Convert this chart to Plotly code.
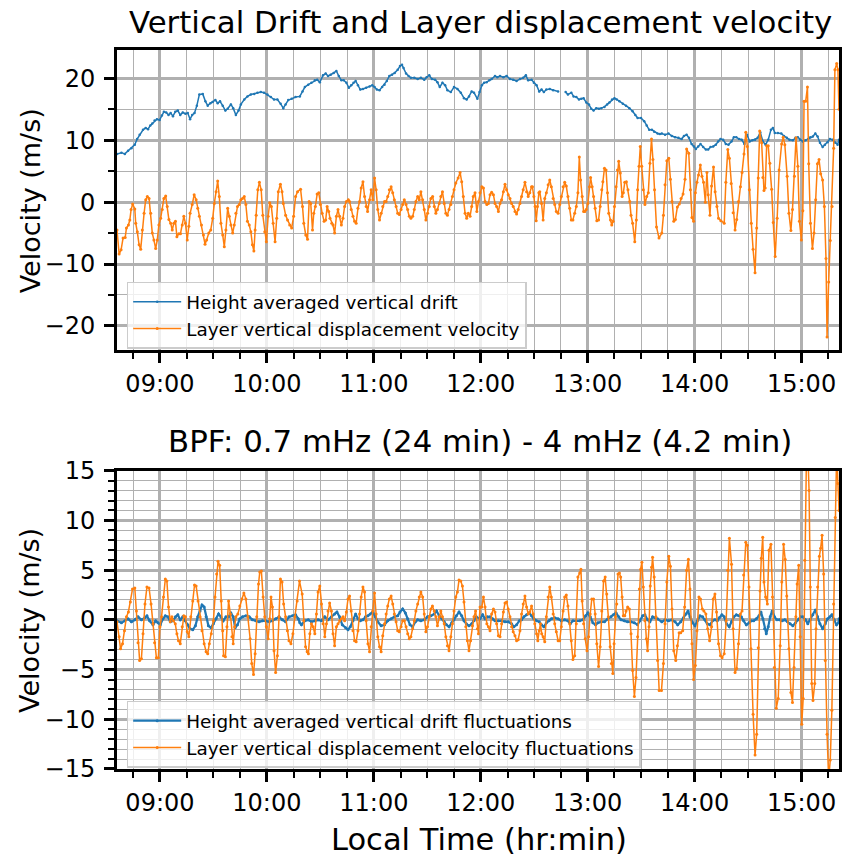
import plotly.graph_objects as go
import pandas as pd

# ---------------- data (times in minutes after midnight, local time) ----------------
drift_t = [515.9, 518.4, 520.3, 522.1, 524.0, 525.9, 527.2, 528.6, 530.5, 532.0, 533.3, 534.6, 535.7, 537.0, 538.3,
           539.8, 541.1, 542.2, 543.5, 544.8, 546.0, 547.3, 548.6, 550.0, 551.4, 552.8, 554.3, 555.6, 556.9, 558.1,
           559.4, 560.7, 562.1, 564.0, 565.5, 566.8, 568.3, 569.6, 571.1, 572.4, 573.7, 575.2, 576.7, 578.0, 579.8,
           581.1, 582.6, 584.1, 585.4, 587.3, 589.1, 591.0, 592.9, 594.7, 596.6, 598.4, 600.3, 602.2, 604.0, 605.9,
           607.7, 609.2, 610.5, 612.0, 613.9, 616.1,
           618.5, 620.0, 621.3, 623.2, 625.0, 626.9, 628.2, 629.7, 631.5, 633.0, 634.3, 635.8, 637.5, 639.0, 640.3,
           641.8, 643.1, 644.6, 646.0, 647.3, 648.6, 649.8, 651.1, 652.4, 653.9, 655.7, 657.6, 659.1, 660.4, 661.7,
           663.2, 664.7, 666.0, 667.3, 668.7, 670.2, 671.7, 673.4, 674.7, 675.8, 676.7, 678.1, 679.5, 680.8, 682.7,
           684.6, 686.4, 688.3, 689.6, 691.1, 692.6, 694.4, 695.7, 697.0, 698.5, 700.0, 701.3, 703.2, 705.0, 706.9,
           708.8, 710.6, 712.1, 713.4, 714.9, 716.2, 718.1,
           719.3, 720.6, 721.9, 723.3, 724.8, 726.1, 728.0, 729.3, 730.8, 732.7, 734.5, 736.4, 738.2, 740.1, 742.0,
           743.8, 745.3, 746.6, 748.5, 749.8, 751.3, 752.8, 754.1, 755.4, 756.8, 758.7, 760.6, 763.4, 765.5, 767.6,
           768.9, 770.8, 772.1, 773.6, 775.1, 776.4, 777.7, 779.2, 780.7, 782.0, 783.3, 784.8, 786.3, 787.6, 789.4,
           790.9, 792.2, 793.7, 795.0, 796.3, 797.8, 799.7, 801.5, 803.4, 805.2, 806.7, 808.0, 809.9, 811.7, 813.1,
           814.5, 816.0, 817.3, 819.2, 820.5,
           821.6, 823.4, 825.3, 827.2, 829.0, 830.9, 832.7, 834.0, 835.5, 836.8, 838.3, 839.6, 840.7, 842.0, 843.3,
           844.8, 846.3, 847.6, 848.9, 850.4, 851.9, 853.2, 854.5, 856.0, 857.5, 859.0, 860.7, 862.0, 863.4, 864.9,
           866.4, 867.9, 869.4, 870.9, 872.4, 873.9, 875.4, 876.8, 878.3, 879.8, 881.3, 882.8, 883.9, 885.0, 886.7,
           888.6, 890.1, 891.7, 893.2, 895.1, 896.6, 897.9, 899.2, 900.7, 902.2, 903.6, 904.9, 906.3, 907.7, 909.0,
           910.3, 911.8, 913.1, 914.6, 915.9, 917.4, 918.9, 920.2, 921.0]
drift_v = [7.8, 8.0, 7.8, 8.3, 8.7, 9.3, 10.2, 10.9, 11.7, 12.0, 11.8, 12.4, 12.7, 13.2, 13.4,
           13.3, 14.0, 14.6, 14.5, 14.1, 14.4, 13.9, 14.6, 14.8, 14.1, 14.5, 14.3, 14.4, 13.4, 14.1,
           14.4, 15.6, 17.4, 17.5, 16.3, 15.6, 16.0, 16.2, 16.5, 16.0, 16.3, 15.6, 14.8, 15.1, 15.8,
           15.2, 14.1, 14.8, 15.8, 16.6, 17.1, 17.4, 17.5, 17.7, 17.8, 17.7, 17.4, 17.0, 16.6, 16.6,
           15.9, 15.2, 15.8, 16.5, 16.7, 17.0,
           17.1, 17.9, 18.6, 19.0, 19.3, 19.7, 19.8, 19.4, 20.5, 20.8, 20.4, 20.6, 20.9, 21.2, 20.4,
           19.7, 19.7, 19.3, 18.5, 18.9, 19.3, 19.6, 18.9, 18.2, 18.3, 18.5, 18.7, 18.9, 18.6, 18.2,
           18.1, 18.6, 19.0, 19.6, 20.4, 20.6, 20.9, 21.4, 22.0, 22.2, 21.7, 20.8, 20.4, 20.1, 20.1,
           19.9, 20.1, 19.8, 20.2, 20.5, 19.9, 19.8, 19.4, 18.6, 19.3, 18.9, 18.1, 17.8, 18.6, 18.3,
           17.7, 16.8, 16.6, 17.1, 17.9, 17.7, 16.7,
           17.8, 18.9, 19.3, 19.4, 19.7, 19.9, 20.4, 20.2, 20.4, 20.2, 20.4, 19.9, 19.8, 19.6, 19.9,
           20.1, 20.5, 19.7, 19.8, 19.3, 18.9, 17.9, 18.2, 17.8, 18.2, 18.3, 18.1, 17.9, None, 17.8,
           17.4, 17.7, 17.1, 17.0, 16.6, 16.7, 16.8, 16.1, 15.8, 15.1, 14.8, 15.2, 15.1, 15.2, 15.4,
           15.8, 16.1, 16.6, 16.8, 16.6, 16.3, 15.9, 15.6, 15.2, 14.7, 14.1, 13.6, 13.6, 13.1, 12.4,
           11.7, 11.7, 11.4, 11.1, 11.0,
           11.1, 10.9, 11.1, 10.7, 10.5, 10.4, 10.2, 10.7, 10.9, 10.4, 9.4, 9.0, 8.6, 9.0, 9.4,
           8.9, 8.5, 8.5, 8.9, 9.0, 9.3, 9.8, 10.2, 10.1, 9.4, 9.3, 9.8, 10.5, 10.5, 10.2,
           10.1, 9.4, 10.9, 9.8, 10.0, 10.1, 10.4, 11.3, 9.8, 9.3, 10.1, 11.7, 12.0, 11.2, 11.2,
           11.1, 10.7, 10.4, 10.1, 10.0, 10.4, 10.5, 10.1, 9.8, 10.0, 10.2, 10.5, 10.6, 11.1, 10.6,
           9.6, 8.9, 9.3, 9.7, 10.2, 10.1, 9.6, 9.3, 10.1]

layer_t = [515.9, 517.1, 518.2, 519.3, 520.5, 521.2, 522.3, 523.1, 523.8, 524.7, 525.9, 526.4, 527.3, 528.3, 529.2,
           530.1, 531.1, 532.0, 532.9, 533.9, 534.8, 535.7, 536.6, 537.6, 538.5, 539.4, 540.4, 541.3, 542.2, 543.2,
           544.1, 545.0, 546.0, 546.9, 547.8, 548.7, 549.5, 550.6, 551.5, 552.5, 553.4, 554.3, 555.3, 556.2, 556.9,
           558.1, 559.2, 560.3, 561.2, 562.1, 563.3, 564.4, 565.3, 566.2, 567.4, 568.5, 569.6, 570.5, 571.5, 572.4,
           573.3, 574.2, 575.2, 576.1, 577.0, 578.0, 578.9, 579.8, 580.8, 581.7, 582.6, 583.5, 584.5, 585.4, 586.3,
           587.3, 588.2, 589.1, 590.1, 591.0, 591.9, 592.7, 593.4, 594.0, 594.9, 595.8, 596.8, 597.7, 598.8, 599.7,
           600.7, 601.6, 602.5, 603.5, 604.6, 605.5, 606.4, 607.6, 608.5, 609.2, 610.5, 611.6, 612.8, 613.9, 615.0,
           616.1, 617.2,
           618.9, 620.0, 620.7, 621.8, 622.8, 623.7, 624.6, 625.6, 626.3, 627.2, 628.2, 629.1, 630.0, 631.0, 632.1,
           633.0, 633.8, 634.7, 635.4, 636.4, 637.1, 638.0, 639.0, 639.9, 640.8, 641.8, 642.7, 643.6, 644.6, 645.7,
           646.4, 647.3, 648.3, 649.2, 650.1, 651.1, 652.0, 652.9, 653.9, 654.8, 655.7, 656.5, 657.6, 658.5, 659.4,
           660.4, 661.3, 662.2, 663.2, 664.1, 665.0, 666.0, 666.9, 667.8, 668.7, 669.7, 670.6, 671.5, 672.5, 673.4,
           674.3, 675.3, 676.2, 677.1, 678.1, 679.0, 679.9, 680.8, 681.8, 682.7, 683.6, 684.6, 685.5, 686.4, 687.4,
           688.3, 689.2, 690.2, 691.1, 692.0, 693.0, 693.9, 694.8, 695.7, 696.7, 697.6, 698.5, 699.5, 700.4, 701.3,
           702.2, 703.2, 704.1, 705.0, 706.0, 707.3, 708.4, 709.3, 710.2, 711.2, 712.1, 713.0, 714.0, 714.9, 715.8,
           716.8, 717.8,
           718.7, 719.6, 720.6, 721.5, 722.4, 723.4, 724.3, 725.2, 726.1, 727.1, 728.0, 728.9, 729.9, 730.8, 731.7,
           732.7, 733.6, 734.5, 735.4, 736.4, 737.3, 738.2, 739.2, 740.1, 741.0, 742.0, 742.9, 743.8, 744.8, 745.7,
           746.6, 747.5, 748.5, 749.0, 749.8, 750.5, 751.1, 751.8, 752.6, 753.1, 754.1, 755.0, 755.9, 756.8, 757.8,
           758.7, 759.6, 760.6, 761.5, 762.4, 763.4, 764.3, 765.2, 766.2, 767.1, 768.0, 768.9, 769.9, 770.8, 771.7,
           772.7, 773.6, 774.5, 775.3, 776.0, 776.9, 777.7, 778.4, 779.2, 780.1, 781.0, 781.6, 782.5, 783.3, 784.2,
           785.1, 786.1, 787.0, 787.9, 788.5, 789.4, 790.3, 791.1, 791.8, 792.8, 793.5, 794.3, 795.0, 795.9, 796.7,
           797.4, 798.3, 799.3, 800.0, 800.8, 801.7, 802.6, 803.6, 804.3, 805.2, 806.4, 807.3, 808.0, 808.8, 809.5,
           810.3, 811.2, 812.1, 813.1, 814.0, 814.9, 815.8, 816.6, 817.5, 818.6,
           820.0, 821.6, 822.5, 823.4, 824.4, 825.5, 826.4, 827.3, 828.3, 829.2, 830.3, 831.4, 832.4, 833.5, 834.6,
           835.5, 836.7, 837.6, 838.5, 839.4, 840.4, 841.3, 842.2, 843.2, 844.1, 845.0, 846.0, 846.9, 847.6, 848.6,
           849.5, 850.6, 851.5, 852.5, 853.4, 854.7, 856.6, 857.5, 858.6, 859.5, 860.5, 861.6, 862.7, 863.6, 864.6,
           865.7, 866.6, 867.7, 868.7, 869.6, 870.7, 871.8, 872.8, 873.9, 874.8, 875.7, 876.5, 877.6, 878.3, 878.9,
           879.6, 880.4, 881.3, 882.2, 883.2, 884.1, 885.2, 886.3, 887.4, 888.8, 889.7, 890.6, 891.9, 892.9, 894.0,
           894.9, 896.0, 896.9, 897.9, 898.8, 899.9, 900.7, 901.4, 902.3, 903.3, 904.0, 905.0, 906.1, 907.0, 907.9,
           908.9, 909.8, 910.7, 911.8, 912.8, 913.7, 914.3, 915.2, 916.1, 917.1, 918.0, 918.7, 919.7, 920.4, 921.0]
layer_v = [-4.5, -8.4, -7.7, -5.8, -5.7, -4.2, -3.7, -2.9, -1.2, -0.3, -1.1, -3.4, -4.8, -6.9, -7.6,
           -4.5, -1.8, 0.4, 0.9, 0.6, -1.8, -5.0, -6.1, -7.5, -6.1, -3.7, -2.6, -1.2, 0.6, 1.0,
           -0.7, -2.8, -3.4, -4.5, -3.4, -3.1, -5.6, -5.1, -5.1, -3.7, -2.3, -3.4, -6.1, -3.9, -1.8,
           -0.4, 1.2, 0.4, -1.0, -2.3, -3.7, -5.3, -6.8, -6.1, -5.0, -4.5, -2.6, -0.2, 1.7, 3.4,
           0.9, -3.4, -5.3, -7.2, -4.5, -1.0, -2.3, -3.7, -5.0, -3.7, -1.8, -0.7, -0.4, 0.4, 0.6,
           0.9, -0.4, -3.1, -3.7, -4.8, -6.9, -7.9, -4.5, -2.1, 2.0, 3.2, 2.0, -2.1, -4.8, -6.4,
           -2.3, -0.1, -0.7, -3.4, -6.4, -2.6, 1.7, 2.9, 1.7, -0.2, -2.1, -2.9, -3.7, -4.2, -2.3,
           0.9, 1.7,
           2.1, -0.7, -3.4, -5.3, -6.0, 0.1, -0.2, -4.5, -1.8, -0.7, 1.3, 1.5, -0.4, -1.8, -3.1,
           -2.9, -0.7, -1.5, -2.6, -3.4, -3.7, -5.0, -2.3, -1.2, -2.3, -3.7, -2.6, -0.7, 0.1, 0.4,
           0.1, -1.2, -2.3, -3.1, -3.4, -1.0, 0.1, 2.3, 3.3, 0.9, -0.7, -1.5, 0.4, 2.0, 0.4,
           3.9, 2.0, -1.2, -2.9, -1.8, -0.7, 0.1, 0.1, 0.9, 2.0, 2.5, 1.5, 0.4, -0.7, -1.8,
           -2.0, -1.2, -0.4, 0.4, -0.4, -1.2, -2.3, -2.6, -2.3, -1.2, 0.1, 0.9, 0.4, 1.7, 0.4,
           -1.2, -2.9, -1.8, -0.7, 0.6, 0.9, -0.7, -1.8, -1.2, -0.2, 0.9, 1.7, -0.2, -1.8, -2.1,
           -1.2, -0.4, 0.9, 2.0, 3.1, 3.9, 4.8, 3.3, 0.9, -1.8, -2.6, -1.8, -2.3, -0.7, 0.9,
           1.5, -1.5,
           0.1, 1.5, 2.5, 2.3, 0.1, -0.4, -0.2, 1.2, 1.6, 1.2, -0.2, -0.7, -1.5, -0.2, 0.4,
           1.7, 2.9, 2.0, 1.2, 0.6, -0.2, -0.7, -1.5, -1.9, -1.2, -0.2, 0.9, 2.0, 3.2, 1.7,
           0.9, 1.5, 2.5, 2.5, 0.9, -0.7, -3.0, -0.7, 1.5, 1.7, -0.2, -2.9, 0.6, 1.5, 2.8,
           3.6, 2.5, 0.6, -0.4, -1.5, -1.8, -0.4, 0.9, 2.5, 3.2, 2.6, 0.9, -1.0, -2.9, -2.9,
           -1.8, -0.7, 1.5, 7.3, 3.6, 0.9, -1.5, -1.5, -1.2, -0.2, 2.5, 4.0, 2.5, 0.9, -1.0,
           -3.0, -2.9, -0.7, 2.0, 3.3, 5.5, 5.2, 1.5, -1.8, -2.9, -3.7, -3.1, -0.7, 2.5, 5.2,
           6.6, 4.7, 0.9, 1.5, 3.2, 3.3, 2.0, 0.1, -2.1, -3.4, -6.4, -2.9, 2.0, 5.8, 9.0,
           5.8, 2.0, -0.4, 0.9, 1.5, 6.3, 10.2, 6.9, 2.0, -4.0,
           -5.8, -5.0, -2.1, 2.8, 6.7, 7.1, 3.7, 0.1, -3.1, -2.8, -0.8, -0.3, 0.6, 1.3, 3.7,
           8.6, 7.9, 2.0, -2.5, -3.1, 1.5, 3.2, 4.4, 6.0, 4.2, 3.2, 0.0, 4.8, 1.2, -2.1,
           2.6, 5.7, 1.7, -0.7, -2.6, -3.0, -3.4, 3.2, 8.5, 7.1, 3.0, -1.7, -4.5, -2.8, 0.1,
           2.5, 4.8, 7.8, 11.3, 9.0, 2.0, -3.4, -7.6, -11.4, -4.2, 3.9, 11.5, 9.6, 4.0, 1.9,
           2.3, 9.1, 9.1, 6.3, 2.1, -3.3, -8.8, -2.6, 5.2, 9.4, 10.5, 9.3, 4.2, -1.8, -4.6,
           -1.2, 4.2, 10.4, 5.8, -3.1, -6.1, -1.4, 16.3, 16.3, 18.6, 6.2, -3.4, -7.5, -5.0, 0.4,
           6.2, 6.9, 4.6, 3.6, -0.7, -9.1, -21.8, -12.9, -6.2, -0.7, 8.7, 21.4, 22.4, 21.4, 15.0]

bpf_drift_t = [515.9, 518.4, 520.3, 522.1, 524.0, 525.9, 527.7, 529.6, 531.4, 532.7, 534.2, 536.1, 537.6, 538.9, 540.2,
               541.7, 543.0, 544.5, 545.8, 547.3, 548.7, 550.0, 551.4, 552.8, 554.3, 555.6, 556.9, 558.4, 559.9, 561.2,
               562.5, 563.6, 564.8, 565.9, 567.2, 568.7, 570.0, 571.5, 572.9, 574.2, 575.5, 577.0, 578.5, 579.8, 581.1,
               582.2, 583.5, 584.8, 586.3, 588.2, 590.1, 591.9, 593.8, 595.6, 597.5, 599.4, 601.2, 603.1, 604.9, 606.8,
               608.7, 610.5, 612.4, 614.3, 616.1, 617.6, 618.5,
               619.4, 621.3, 623.2, 625.0, 626.9, 628.7, 630.6, 632.5, 634.3, 636.2, 638.0, 639.3, 640.8, 642.3, 644.2,
               645.5, 646.8, 648.3, 649.8, 651.1, 652.4, 653.9, 655.3, 656.7, 658.0, 659.4, 660.9, 662.2, 664.1, 666.0,
               667.8, 669.7, 671.5, 673.4, 674.7, 676.2, 677.7, 679.0, 680.3, 681.8, 683.3, 684.6, 686.4, 688.3, 690.1,
               692.0, 693.9, 695.2, 696.7, 698.2, 699.5, 700.8, 702.2, 703.7, 705.0, 706.3, 707.8, 709.3, 710.6, 711.9,
               713.4, 714.9, 716.2, 717.5,
               719.6, 721.1, 722.4, 723.7, 725.2, 726.7, 728.0, 729.9, 731.7, 733.6, 735.4, 737.3, 738.6, 740.1, 741.6,
               742.9, 744.2, 745.7, 747.2, 748.5, 749.8, 751.3, 752.8, 754.1, 755.4, 756.8, 758.3, 759.6, 761.5, 763.4,
               765.2, 767.1, 768.9, 770.2, 771.7, 773.6, 775.5, 777.3, 778.8, 780.1, 781.4, 782.9, 784.4, 785.7, 787.6,
               789.4, 791.3, 793.1, 794.4, 795.9, 797.4, 798.7, 800.6, 802.4, 804.3, 806.2, 808.0, 809.3, 810.8, 812.1,
               813.6, 814.9, 816.4, 817.9, 819.2,
               821.6, 823.4, 825.3, 827.2, 829.0, 830.5, 832.2, 833.7, 835.2, 836.3, 837.4, 838.9, 840.2, 841.5, 843.0,
               844.5, 845.8, 847.1, 848.6, 850.0, 851.4, 852.7, 853.8, 855.3, 856.6, 857.9, 859.4, 860.7, 862.0, 863.4,
               864.9, 866.2, 867.5, 869.0, 870.5, 871.8, 873.1, 874.6, 876.1, 877.2, 878.3, 879.3, 880.2, 881.3, 882.4,
               883.5, 884.8, 886.2, 887.6, 889.1, 890.6, 892.1, 893.6, 895.1, 896.6, 898.1, 899.4, 900.7, 902.2, 903.5,
               904.8, 906.3, 907.7, 909.0, 910.3, 911.8, 913.3, 914.6, 915.9, 917.0, 918.3, 919.6, 920.7, 921.0]
bpf_drift_v = [-0.1, -0.3, -0.1, 0.1, -0.2, 0.0, 0.3, 0.0, 0.2, 0.4, -0.1, -0.5, -0.1, -0.3, -0.5,
               0.1, 0.4, 0.3, -0.2, -0.1, 0.3, 0.5, 0.0, 0.3, -0.1, -0.5, -0.9, -1.0, -0.6, 0.3,
               0.9, 1.5, 1.3, 0.3, -0.6, -0.8, -0.4, 0.1, 0.6, 0.3, -0.1, 0.3, 0.3, 0.7, 0.3,
               -0.8, -0.5, 0.1, 0.3, 0.4, 0.3, 0.0, -0.1, -0.2, -0.1, -0.1, -0.2, -0.1, 0.1, 0.3,
               0.0, -0.2, 0.3, 0.4, 0.5, 0.1, -0.3,
               -0.5, -0.1, 0.0, -0.2, -0.1, 0.0, -0.1, 0.3, 0.0, 0.3, 0.6, 0.8, 0.3, -0.5, -0.8,
               -1.0, -0.7, -0.1, 0.6, 0.1, -0.1, 0.0, 0.3, 0.4, 0.6, 0.8, 0.3, -0.2, -0.6, -0.5,
               -0.1, 0.1, 0.3, 0.4, 0.8, 1.1, 0.7, 0.1, -0.5, -0.7, -0.2, 0.0, -0.1, 0.0, 0.3,
               0.4, 0.6, 0.9, 0.4, 0.1, -0.2, -0.5, -0.7, -0.3, 0.0, 0.4, 0.8, 0.4, -0.1, -0.4,
               -0.6, -0.4, -0.1, 0.3,
               0.1, 0.5, 0.1, 0.3, 0.3, 0.1, -0.1, -0.1, -0.1, -0.2, -0.2, -0.4, -0.7, -0.5, -0.1,
               0.0, 0.3, 0.5, 0.7, 0.4, 0.1, -0.1, -0.2, -0.5, -0.7, -0.3, -0.1, 0.1, 0.2, 0.1,
               -0.1, 0.0, -0.1, -0.4, -0.1, -0.1, -0.1, 0.0, 0.4, 0.7, 0.3, -0.3, -0.5, -0.3, -0.2,
               -0.2, 0.1, 0.3, 0.5, 0.7, 0.3, 0.0, -0.1, -0.2, -0.2, -0.3, -0.5, -0.1, 0.4, 0.5,
               0.0, -0.2, 0.3, 0.2, 0.1,
               -0.2, 0.0, -0.1, 0.0, -0.2, -0.5, -0.2, 0.2, 0.6, 0.9, 0.3, -0.3, -0.6, -0.1, 0.4,
               0.3, 0.0, -0.4, -0.5, -0.1, 0.0, -0.1, 0.2, 0.5, 0.3, -0.4, -0.7, -0.2, 0.3, 0.5,
               0.4, 0.3, -0.1, -0.5, -0.3, -0.1, -0.1, 0.1, 0.4, 0.8, 0.1, -0.9, -1.4, -0.7, 0.3,
               0.9, 0.3, 0.0, 0.0, -0.1, 0.0, -0.2, -0.4, -0.6, -0.3, 0.0, 0.3, 0.3, 0.0, -0.4,
               0.0, 0.5, 1.0, 0.3, -0.4, -0.9, -0.4, 0.1, 0.3, 0.5, 0.0, -0.5, -0.3, 0.1]

bpf_layer_t = [515.9, 517.1, 517.9, 519.0, 520.1, 521.2, 522.3, 523.4, 524.6, 525.9, 526.8, 527.7, 528.6, 529.6, 530.5,
               531.6, 532.7, 533.9, 535.0, 536.1, 537.0, 538.0, 539.1, 540.0, 540.9, 542.0, 543.0, 543.9, 544.8, 545.8,
               546.7, 547.6, 548.6, 549.5, 550.4, 551.4, 552.5, 553.4, 554.3, 555.3, 556.2, 557.3, 558.4, 559.4, 560.3,
               561.4, 562.5, 563.6, 564.8, 565.9, 566.8, 567.7, 568.8, 570.0, 570.9, 571.8, 572.6, 573.5, 574.4, 575.2,
               575.7, 576.7, 577.6, 578.5, 579.5, 580.4, 581.1, 581.9, 582.6, 583.7, 584.8, 586.0, 587.1, 588.2, 589.3,
               590.6, 591.5, 592.5, 593.4, 594.3, 595.3, 596.0, 596.9, 597.9, 598.8, 599.7, 600.7, 601.6, 602.3, 603.1,
               604.0, 604.9, 605.9, 606.8, 607.6, 608.5, 609.4, 610.5, 611.5, 612.4, 613.5, 614.6, 615.7, 617.0, 618.3,
               619.8, 620.7, 621.7, 622.6, 623.3, 624.1, 625.0, 625.9, 626.9, 627.8, 628.7, 629.7, 630.6, 631.5, 632.5,
               633.4, 634.3, 635.2, 636.2, 637.1, 638.0, 639.0, 639.9, 640.8, 641.8, 642.7, 643.6, 644.6, 645.5, 646.4,
               647.3, 648.3, 649.2, 650.1, 651.1, 652.0, 652.9, 653.9, 654.8, 655.7, 656.7, 657.6, 658.5, 659.4, 660.4,
               661.3, 662.2, 663.2, 664.1, 665.0, 666.0, 666.9, 667.8, 668.7, 669.7, 670.6, 671.5, 672.5, 673.4, 674.3,
               675.3, 676.2, 677.1, 678.1, 679.0, 679.9, 680.8, 681.8, 682.7, 683.6, 684.6, 685.5, 686.4, 687.4, 688.3,
               689.2, 690.1, 691.1, 692.0, 692.9, 693.9, 694.8, 695.7, 696.7, 697.6, 698.5, 699.5, 700.4, 701.3, 702.2,
               703.2, 704.1, 705.0, 706.0, 706.9, 707.8, 708.8, 709.7, 710.6, 711.6, 712.5, 713.4, 714.3, 715.3, 716.2,
               717.1, 718.1,
               718.7, 719.6, 720.6, 721.5, 722.4, 723.4, 724.3, 725.2, 726.1, 727.1, 728.0, 728.9, 729.9, 730.8, 731.7,
               732.7, 733.6, 734.5, 735.4, 736.4, 737.3, 738.2, 739.2, 740.1, 741.0, 742.0, 742.9, 743.8, 744.8, 745.7,
               746.6, 747.5, 748.5, 749.4, 750.3, 751.3, 752.0, 752.8, 753.5, 754.2, 755.0, 755.9, 756.8, 757.8, 758.7,
               759.6, 760.6, 761.5, 762.4, 763.4, 764.3, 765.2, 766.2, 767.1, 768.0, 768.9, 769.9, 770.8, 771.7, 772.7,
               773.6, 774.5, 775.5, 776.2, 776.9, 777.7, 778.6, 779.6, 780.5, 781.4, 782.3, 783.3, 784.2, 785.1, 786.1,
               787.0, 787.9, 788.9, 789.8, 790.7, 791.6, 792.6, 793.3, 794.1, 794.8, 795.6, 796.3, 797.0, 797.8, 798.5,
               799.3, 800.0, 800.8, 801.5, 802.4, 803.4, 804.3, 805.2, 806.2, 807.1, 808.0, 809.0, 809.7, 810.4, 811.2,
               812.1, 812.9, 813.6, 814.4, 815.1, 815.8, 816.4, 817.3, 818.3, 819.2, 820.1,
               821.4, 822.5, 823.4, 824.4, 825.5, 826.4, 827.3, 828.3, 829.4, 830.3, 831.3, 832.2, 833.3, 834.4, 835.5,
               836.5, 837.4, 838.5, 839.4, 840.4, 841.3, 842.4, 843.3, 844.3, 845.2, 846.3, 847.3, 848.4, 849.5, 850.4,
               851.4, 852.3, 853.4, 854.5, 855.4, 856.6, 857.7, 858.6, 859.5, 860.7, 861.6, 862.7, 863.6, 864.6, 865.7,
               866.6, 867.5, 868.7, 869.6, 870.5, 871.6, 872.8, 873.9, 874.8, 875.7, 876.7, 877.4, 878.2, 878.9, 879.8,
               880.8, 881.7, 882.8, 883.7, 884.7, 885.8, 886.9, 888.0, 888.9, 889.9, 890.8, 891.7, 892.9, 894.0, 894.9,
               895.8, 896.8, 897.5, 898.4, 899.2, 900.1, 900.9, 901.8, 902.7, 903.5, 904.2, 904.9, 905.7, 906.4, 907.4,
               908.1, 909.0, 910.0, 910.7, 911.5, 912.4, 913.3, 914.3, 915.2, 916.1, 917.0, 918.0, 918.9, 919.7, 920.4,
               921.0]
bpf_layer_v = [-0.2, -1.7, -2.9, -2.4, -1.1, 0.3, 0.8, 1.8, 3.1, 3.2, 0.9, -2.3, -4.1, -3.9, -1.4,
               1.6, 3.3, 3.2, 1.6, -0.4, -2.3, -3.8, -3.8, -0.7, 0.3, 2.3, 4.1, 3.9, 1.3, -0.2,
               0.3, -0.1, -0.4, -1.4, -2.1, -2.4, -0.7, 0.4, 0.3, -1.2, -1.7, 0.3, 1.9, 3.5, 3.4,
               1.9, 0.3, -1.1, -2.4, -3.2, -3.4, -2.4, -1.4, -0.1, 2.3, 4.6, 5.9, 5.5, 1.9, -1.1,
               -3.6, -3.7, -0.7, 1.9, 0.6, -1.7, -2.4, -0.7, 0.3, 0.6, 1.4, 2.1, 2.7, 2.1, 0.3,
               -1.9, -4.4, -5.5, -3.4, 0.3, 3.6, 4.8, 4.9, 2.3, 0.3, -0.7, -1.9, 0.1, 2.3, 1.3,
               -3.1, -5.3, -3.6, 0.3, 4.1, 3.8, 1.6, 0.3, -1.1, -2.1, -2.4, -1.4, 0.3, 1.9, 3.9,
               2.6, -0.1, -2.7, -3.2, -3.4, -1.4, -0.4, -0.7, -1.4, 0.6, 2.8, 3.4, 1.6, -0.4, -1.7,
               -0.4, 0.9, 1.7, 0.9, -1.4, -2.6, -0.7, -0.4, -0.1, 0.1, 0.3, -0.1, 0.8, 2.1, 2.4,
               0.9, -1.1, -2.1, -2.2, -1.1, 0.6, 2.3, 3.3, 2.8, -0.1, -2.4, -3.2, -0.7, 0.9, 2.7,
               0.6, -1.7, -2.7, -3.2, -1.6, -0.4, 0.6, 1.4, 2.1, 2.4, 1.6, 0.6, -0.2, -1.1, -1.2,
               -0.7, -0.1, -0.1, -0.7, -1.4, -1.9, -1.7, -0.9, -0.1, 0.9, 1.6, 2.3, 2.8, 2.3, 0.6,
               -1.2, -0.7, 0.3, 1.1, 1.4, 0.9, 0.3, -0.6, 0.3, 0.9, 0.3, -0.4, -1.7, -2.6, -3.1,
               -1.7, -0.4, 0.9, 2.3, 2.8, 4.0, 3.9, 3.4, 1.8, -0.7, -2.1, -3.1, -2.1, -0.6, 0.3,
               0.9, -0.9,
               -1.4, 1.3, 1.3, 2.3, 1.3, -0.4, -0.7, -1.1, 0.6, 1.1, 0.8, -0.4, -1.6, -1.7, -0.4,
               0.8, 1.7, 1.8, 1.1, 0.3, -0.7, -1.2, -1.6, -2.1, -2.0, -1.1, 0.6, 1.6, 2.4, 1.3,
               0.6, 0.8, 1.4, 0.6, -0.4, -1.4, -2.1, -1.1, -0.4, -1.4, -1.7, -2.2, 0.3, 2.3, 3.3,
               2.3, 0.6, -0.4, -1.2, -2.1, -2.1, -0.7, 0.9, 2.3, 2.5, 1.4, -0.4, -2.1, -4.0, -3.6,
               -0.4, 4.3, 4.7, 5.1, 1.9, -0.4, -1.9, -3.1, -1.7, 0.6, 2.1, 2.1, 0.6, -2.4, -4.7,
               -2.7, 0.9, 3.9, 4.3, 2.6, 0.3, -2.7, -4.4, -5.4, -2.4, 0.3, 1.6, 4.6, 4.7, 4.3,
               2.3, 0.4, 0.4, 0.9, 1.3, 1.1, -1.4, -5.1, -7.7, -5.8, -1.7, 3.1, 5.1, 5.8, 3.3,
               -0.1, -1.9, -3.1, -0.7, 3.4, 5.3, 6.3, 4.3, 0.3, -4.1, -7.1,
               -7.1, -4.4, -0.4, 3.8, 6.4, 5.4, 1.1, -3.1, -4.1, -2.6, -1.3, -1.3, -1.1, 1.3, 5.0,
               6.1, 3.1, -2.4, -6.0, -4.6, -1.1, 2.3, 2.1, 1.1, 0.9, 0.6, -0.9, -2.1, -0.7, 2.1,
               2.6, 0.8, -2.4, -3.6, -3.8, -3.4, -0.1, 5.0, 8.2, 5.6, -0.9, -5.3, -4.9, -2.4, 0.6,
               0.9, 4.5, 7.8, 7.5, 3.3, -2.9, -9.5, -13.6, -11.5, -2.8, 2.9, 6.2, 8.3, 3.8, 2.3,
               1.6, 7.0, 7.6, 2.3, -4.8, -8.9, -7.9, -2.6, 3.8, 7.6, 6.1, 2.4, -2.9, -7.3, -8.3,
               -4.8, 0.3, 3.6, 5.5, -1.7, -10.5, -7.9, 6.0, 16.0, 17.0, 13.0, 3.3, -6.4, -8.1, -6.4,
               -0.9, 3.3, 6.4, 7.2, 8.5, 4.6, -4.1, -11.5, -16.0, -14.1, -9.1, 1.6, 10.3, 17.0, 13.7,
               11.0]

TITLE_TOP = "Vertical Drift and Layer displacement velocity"
TITLE_BOTTOM = "BPF: 0.7 mHz (24 min) - 4 mHz (4.2 min)"
NAMES_TOP = ["Height averaged vertical drift", "Layer vertical displacement velocity"]
NAMES_BOTTOM = ["Height averaged vertical drift fluctuations",
                "Layer vertical displacement velocity fluctuations"]
Y_TITLE = "Velocity (m/s)"
X_TITLE = "Local Time (hr:min)"
T_START, T_END = 515.9, 921.0

# ---------------- figure ----------------
BASE = pd.Timestamp("2000-01-01")


def to_time(mins):
    return [BASE + pd.Timedelta(minutes=m) for m in mins]


BLUE = "#1f77b4"
ORANGE = "#ff7f0e"
FONT = "DejaVu Sans"

fig = go.Figure()
fig.add_trace(go.Scatter(x=to_time(drift_t), y=drift_v, name=NAMES_TOP[0], mode="lines+markers",
                         line=dict(color=BLUE, width=1.5), marker=dict(size=2.5, color=BLUE),
                         connectgaps=False, xaxis="x", yaxis="y", legend="legend"))
fig.add_trace(go.Scatter(x=to_time(layer_t), y=layer_v, name=NAMES_TOP[1], mode="lines+markers",
                         line=dict(color=ORANGE, width=1.5), marker=dict(size=3, color=ORANGE),
                         xaxis="x", yaxis="y", legend="legend"))
fig.add_trace(go.Scatter(x=to_time(bpf_drift_t), y=bpf_drift_v, name=NAMES_BOTTOM[0], mode="lines+markers",
                         line=dict(color=BLUE, width=2.2), marker=dict(size=3, color=BLUE),
                         xaxis="x2", yaxis="y2", legend="legend2"))
fig.add_trace(go.Scatter(x=to_time(bpf_layer_t), y=bpf_layer_v, name=NAMES_BOTTOM[1], mode="lines+markers",
                         line=dict(color=ORANGE, width=1.5), marker=dict(size=3, color=ORANGE),
                         xaxis="x2", yaxis="y2", legend="legend2"))

GRID = "#b0b0b0"
xr = [str(to_time([T_START])[0]), str(to_time([T_END])[0])]
TICKFONT = dict(size=24, family=FONT, color="black")


def xaxis_cfg(anchor):
    return dict(anchor=anchor, domain=[0, 1], type="date", range=xr, tickformat="%H:%M",
                tick0="2000-01-01 09:00:00", dtick=3600000,
                ticks="outside", ticklen=10, tickwidth=2.5, tickcolor="black",
                showline=True, linecolor="black", linewidth=3, mirror=True,
                showgrid=True, gridcolor=GRID, gridwidth=3, zeroline=False,
                tickfont=TICKFONT,
                minor=dict(tick0="2000-01-01 09:00:00", dtick=900000, ticks="outside", ticklen=6,
                           tickwidth=2, tickcolor="black", showgrid=True, gridcolor=GRID, gridwidth=1.2))


def yaxis_cfg(anchor, domain, rng, dtick, mdtick):
    return dict(anchor=anchor, domain=domain, range=rng, dtick=dtick, tick0=0,
                ticks="outside", ticklen=10, tickwidth=2.5, tickcolor="black",
                showline=True, linecolor="black", linewidth=3, mirror=True,
                showgrid=True, gridcolor=GRID, gridwidth=3, zeroline=False,
                tickfont=TICKFONT, ticklabelstandoff=4,
                minor=dict(dtick=mdtick, tick0=0, ticks="outside", ticklen=6, tickwidth=2,
                           tickcolor="black", showgrid=True, gridcolor=GRID, gridwidth=1.2))


LEG = dict(xanchor="left", yanchor="top", itemwidth=48,
           bgcolor="rgba(255,255,255,0.8)", bordercolor="#cccccc", borderwidth=1.5,
           font=dict(size=18.4, family=FONT, color="black"))

fig.update_layout(
    width=844, height=856,
    margin=dict(l=117, r=2, t=50, b=87),
    paper_bgcolor="white", plot_bgcolor="white",
    font=dict(family=FONT, color="black"),
    showlegend=True,
    xaxis=xaxis_cfg("y"),
    yaxis=yaxis_cfg("x", [0.5828, 1.0], [-23.9, 24.6], 10, 5),
    xaxis2=xaxis_cfg("y2"),
    yaxis2=yaxis_cfg("x2", [0.0, 0.4149], [-15, 15], 5, 1),
    legend=dict(x=0.0134, y=0.6777, **LEG),
    legend2=dict(x=0.0134, y=0.095, **LEG),
    annotations=[
        dict(text=TITLE_TOP, x=0.5028, y=1.039, xref="paper", yref="paper", showarrow=False,
             xanchor="center", yanchor="middle", font=dict(size=30.8, family=FONT, color="black")),
        dict(text=TITLE_BOTTOM, x=0.5023, y=0.4562, xref="paper", yref="paper", showarrow=False,
             xanchor="center", yanchor="middle", font=dict(size=30.8, family=FONT, color="black")),
        dict(text=Y_TITLE, x=-0.1205, y=0.791, xref="paper", yref="paper", showarrow=False,
             textangle=-90, xanchor="center", yanchor="middle",
             font=dict(size=27, family=FONT, color="black")),
        dict(text=Y_TITLE, x=-0.1205, y=0.2074, xref="paper", yref="paper", showarrow=False,
             textangle=-90, xanchor="center", yanchor="middle",
             font=dict(size=27, family=FONT, color="black")),
        dict(text=X_TITLE, x=0.5014, y=-0.098, xref="paper", yref="paper", showarrow=False,
             xanchor="center", yanchor="middle", font=dict(size=30.5, family=FONT, color="black")),
    ],
)

fig.write_html("out.html")
